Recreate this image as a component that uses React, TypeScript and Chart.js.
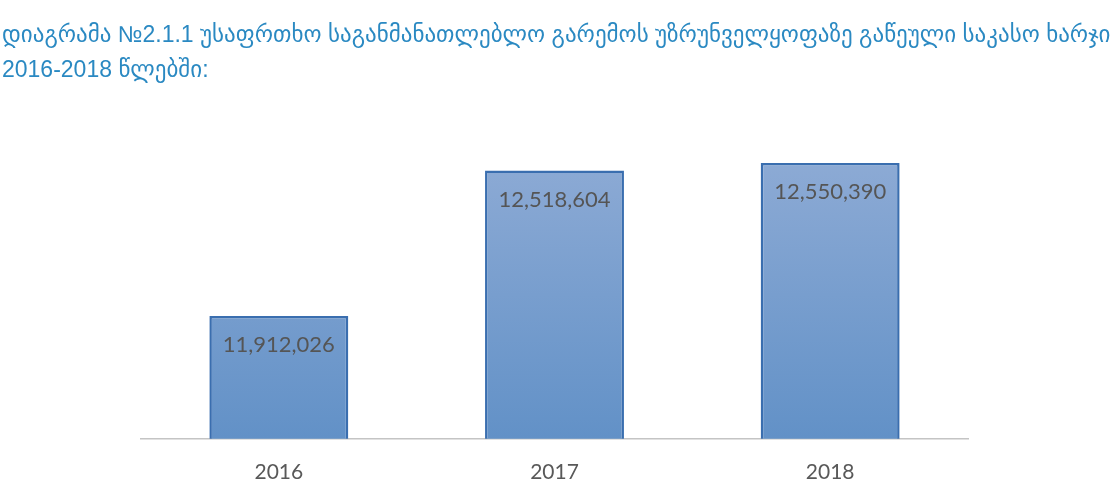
import React, { useEffect, useRef } from "react";
import { Chart, registerables } from "chart.js";

Chart.register(...registerables);

const titleLine1 =
  "დიაგრამა №2.1.1 უსაფრთხო საგანმანათლებლო გარემოს უზრუნველყოფაზე გაწეული საკასო ხარჯი";
const titleLine2 = "2016-2018 წლებში:";

const categories = ["2016", "2017", "2018"];
const spending = [11912026, 12518604, 12550390];
const yMin = 11400000;
const yMax = 12600000;

const labelFont = "Lato, 'Open Sans', sans-serif";

const valueLabels = {
  id: "valueLabels",
  afterDatasetsDraw(chart: any) {
    const ctx = chart.ctx;
    const meta = chart.getDatasetMeta(0);
    ctx.save();
    ctx.fillStyle = "#555555";
    ctx.font = `22px ${labelFont}`;
    ctx.textAlign = "center";
    ctx.textBaseline = "middle";
    meta.data.forEach((bar: any, i: number) => {
      const v = chart.data.datasets[0].data[i] as number;
      ctx.fillText(v.toLocaleString("en-US"), bar.x, bar.y + 29);
    });
    ctx.restore();
  },
};

export default function App() {
  const ref = useRef<HTMLCanvasElement | null>(null);

  useEffect(() => {
    document.body.style.margin = "0";
    if (!ref.current) return;
    const chart = new Chart(ref.current, {
      type: "bar",
      data: {
        labels: categories,
        datasets: [
          {
            data: spending,
            backgroundColor: (c: any) => {
              const area = c.chart.chartArea;
              if (!area) return "#7a9fce";
              const g = c.chart.ctx.createLinearGradient(0, area.top, 0, area.bottom);
              g.addColorStop(0, "#8eabd5");
              g.addColorStop(1, "#6291c7");
              return g;
            },
            borderColor: "#3a6eaf",
            borderWidth: 2.5,
            borderSkipped: false,
            barPercentage: 0.504,
            categoryPercentage: 1,
          },
        ],
      },
      options: {
        animation: false,
        responsive: false,
        maintainAspectRatio: false,
        layout: { padding: { left: 141, right: 152, top: 151, bottom: 0 } },
        plugins: {
          legend: { display: false },
          tooltip: { enabled: false },
          title: { display: false },
        },
        scales: {
          x: {
            grid: { display: false, drawTicks: false },
            border: { display: true, color: "#c4c4c4", width: 1.5 },
            ticks: {
              color: "#595959",
              font: { family: labelFont, size: 21 },
              padding: 21,
            },
          },
          y: {
            display: false,
            min: yMin,
            max: yMax,
          },
        },
      },
      plugins: [valueLabels],
    });
    return () => chart.destroy();
  }, []);

  return (
    <div
      style={{
        position: "relative",
        width: 1120,
        height: 500,
        background: "#fff",
        overflow: "hidden",
      }}
    >
      <canvas
        ref={ref}
        width={1120}
        height={506}
        style={{ position: "absolute", left: 0, top: 0, width: 1120, height: 506 }}
      />
      <div
        style={{
          position: "absolute",
          left: 2,
          top: 17,
          color: "#2a89c2",
          fontFamily: "'Liberation Sans', 'DejaVu Sans', sans-serif",
          fontSize: 23,
          lineHeight: "35px",
          whiteSpace: "nowrap",
        }}
      >
        <div>{titleLine1}</div>
        <div>{titleLine2}</div>
      </div>
    </div>
  );
}
